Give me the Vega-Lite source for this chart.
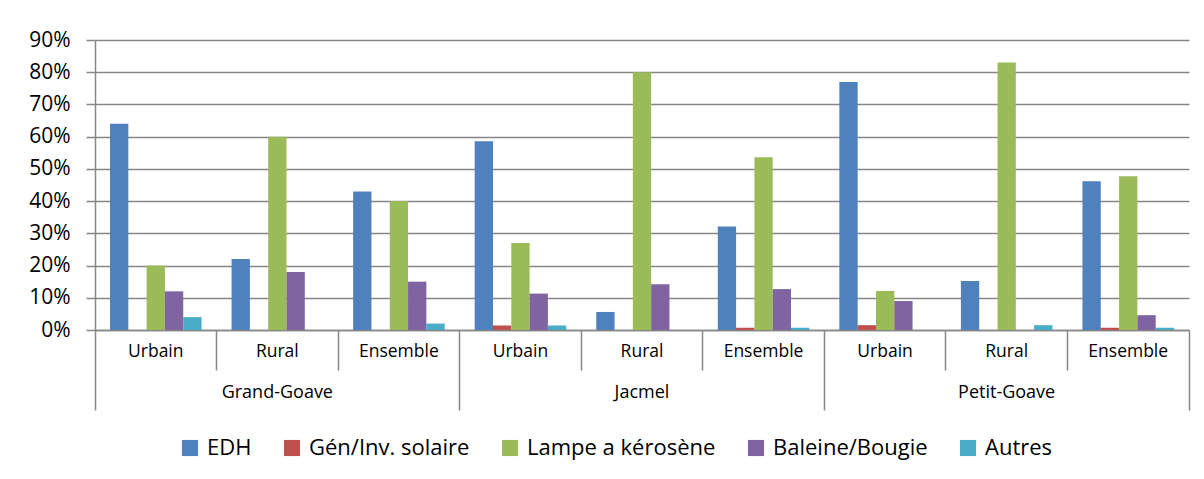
{
  "$schema": "https://vega.github.io/schema/vega-lite/v6.json",
  "autosize": "none",
  "width": 1094,
  "height": 290,
  "padding": {"left": 95, "top": 40, "right": 15, "bottom": 149},
  "background": "white",
  "config": {
    "view": {"stroke": null},
    "font": "Open Sans",
    "axis": {"labelFont": "Open Sans", "labelColor": "#000000"},
    "legend": {"labelFont": "Open Sans"}
  },
  "data": {
    "values": [
      {"c": "Grand-Goave|Urbain", "s": "EDH", "v": 64},
      {"c": "Grand-Goave|Urbain", "s": "Gén/Inv. solaire", "v": 0},
      {"c": "Grand-Goave|Urbain", "s": "Lampe a kérosène", "v": 20},
      {"c": "Grand-Goave|Urbain", "s": "Baleine/Bougie", "v": 12},
      {"c": "Grand-Goave|Urbain", "s": "Autres", "v": 4},
      {"c": "Grand-Goave|Rural", "s": "EDH", "v": 22},
      {"c": "Grand-Goave|Rural", "s": "Gén/Inv. solaire", "v": 0},
      {"c": "Grand-Goave|Rural", "s": "Lampe a kérosène", "v": 60},
      {"c": "Grand-Goave|Rural", "s": "Baleine/Bougie", "v": 18},
      {"c": "Grand-Goave|Rural", "s": "Autres", "v": 0},
      {"c": "Grand-Goave|Ensemble", "s": "EDH", "v": 43},
      {"c": "Grand-Goave|Ensemble", "s": "Gén/Inv. solaire", "v": 0},
      {"c": "Grand-Goave|Ensemble", "s": "Lampe a kérosène", "v": 40},
      {"c": "Grand-Goave|Ensemble", "s": "Baleine/Bougie", "v": 15},
      {"c": "Grand-Goave|Ensemble", "s": "Autres", "v": 2},
      {"c": "Jacmel|Urbain", "s": "EDH", "v": 58.6},
      {"c": "Jacmel|Urbain", "s": "Gén/Inv. solaire", "v": 1.4},
      {"c": "Jacmel|Urbain", "s": "Lampe a kérosène", "v": 27},
      {"c": "Jacmel|Urbain", "s": "Baleine/Bougie", "v": 11.3},
      {"c": "Jacmel|Urbain", "s": "Autres", "v": 1.4},
      {"c": "Jacmel|Rural", "s": "EDH", "v": 5.6},
      {"c": "Jacmel|Rural", "s": "Gén/Inv. solaire", "v": 0},
      {"c": "Jacmel|Rural", "s": "Lampe a kérosène", "v": 80},
      {"c": "Jacmel|Rural", "s": "Baleine/Bougie", "v": 14.2},
      {"c": "Jacmel|Rural", "s": "Autres", "v": 0},
      {"c": "Jacmel|Ensemble", "s": "EDH", "v": 32.1},
      {"c": "Jacmel|Ensemble", "s": "Gén/Inv. solaire", "v": 0.7},
      {"c": "Jacmel|Ensemble", "s": "Lampe a kérosène", "v": 53.6},
      {"c": "Jacmel|Ensemble", "s": "Baleine/Bougie", "v": 12.7},
      {"c": "Jacmel|Ensemble", "s": "Autres", "v": 0.7},
      {"c": "Petit-Goave|Urbain", "s": "EDH", "v": 77},
      {"c": "Petit-Goave|Urbain", "s": "Gén/Inv. solaire", "v": 1.5},
      {"c": "Petit-Goave|Urbain", "s": "Lampe a kérosène", "v": 12.1},
      {"c": "Petit-Goave|Urbain", "s": "Baleine/Bougie", "v": 9},
      {"c": "Petit-Goave|Urbain", "s": "Autres", "v": 0},
      {"c": "Petit-Goave|Rural", "s": "EDH", "v": 15.2},
      {"c": "Petit-Goave|Rural", "s": "Gén/Inv. solaire", "v": 0},
      {"c": "Petit-Goave|Rural", "s": "Lampe a kérosène", "v": 83},
      {"c": "Petit-Goave|Rural", "s": "Baleine/Bougie", "v": 0},
      {"c": "Petit-Goave|Rural", "s": "Autres", "v": 1.5},
      {"c": "Petit-Goave|Ensemble", "s": "EDH", "v": 46.2},
      {"c": "Petit-Goave|Ensemble", "s": "Gén/Inv. solaire", "v": 0.7},
      {"c": "Petit-Goave|Ensemble", "s": "Lampe a kérosène", "v": 47.7},
      {"c": "Petit-Goave|Ensemble", "s": "Baleine/Bougie", "v": 4.6},
      {"c": "Petit-Goave|Ensemble", "s": "Autres", "v": 0.7}
    ]
  },
  "resolve": {"axis": {"x": "independent"}},
  "layer": [
    {
      "mark": {"type": "bar"},
      "encoding": {
        "x": {
          "field": "c", "type": "nominal", "sort": null,
          "scale": {"paddingInner": 0, "paddingOuter": 0},
          "axis": {
            "orient": "bottom", "title": null, "labelAngle": 0,
            "labelExpr": "split(datum.value, '|')[1]",
            "labelFontSize": 17.5, "labelPadding": 12, "ticks": false,
            "domain": true, "domainColor": "#868686", "domainWidth": 1.5,
            "grid": false
          }
        },
        "xOffset": {
          "field": "s", "type": "nominal",
          "sort": ["EDH", "Gén/Inv. solaire", "Lampe a kérosène", "Baleine/Bougie", "Autres"],
          "scale": {"paddingInner": 0, "paddingOuter": 0.82}
        },
        "y": {
          "field": "v", "type": "quantitative",
          "scale": {"domain": [0, 90], "nice": false},
          "axis": {
            "title": null, "values": [0, 10, 20, 30, 40, 50, 60, 70, 80, 90],
            "labelExpr": "datum.value + '%'", "labelFontSize": 21,
            "labelPadding": 16, "tickSize": 9, "tickColor": "#868686", "tickWidth": 1.5,
            "domainColor": "#868686", "domainWidth": 1.5,
            "grid": true, "gridColor": "#868686", "gridWidth": 1.5
          }
        },
        "color": {
          "field": "s", "type": "nominal",
          "scale": {
            "domain": ["EDH", "Gén/Inv. solaire", "Lampe a kérosène", "Baleine/Bougie", "Autres"],
            "range": ["#4F81BD", "#C0504D", "#9BBB59", "#8064A2", "#4BACC6"]
          },
          "legend": {
            "title": null, "orient": "none", "direction": "horizontal",
            "legendX": 84, "legendY": 397,
            "symbolType": "square", "symbolSize": 260, "symbolStrokeWidth": 0,
            "labelFontSize": 22, "labelOffset": 6, "columnPadding": 29,
            "labelColor": "#000000", "labelLimit": 400
          }
        }
      }
    },
    {
      "mark": {"type": "point", "opacity": 0},
      "encoding": {
        "x": {
          "field": "c", "type": "nominal", "sort": null,
          "axis": {
            "orient": "bottom", "title": null, "labels": false, "domain": false,
            "bandPosition": 0, "ticks": true, "tickColor": "#868686", "tickWidth": 1.5,
            "tickSize": {"condition": {"test": "split(datum.value, '|')[1] === 'Urbain'", "value": 80}, "value": 40},
            "grid": false
          }
        }
      }
    },
    {
      "mark": {"type": "point", "opacity": 0},
      "encoding": {
        "x": {
          "field": "c", "type": "nominal", "sort": null,
          "axis": {
            "orient": "bottom", "title": null, "labels": false, "domain": false,
            "bandPosition": 1, "ticks": true, "tickColor": "#868686", "tickWidth": 1.5,
            "tickSize": 80,
            "tickOpacity": {"condition": {"test": "datum.value === 'Petit-Goave|Ensemble'", "value": 1}, "value": 0},
            "grid": false
          }
        }
      }
    },
    {
      "mark": {"type": "point", "opacity": 0},
      "encoding": {
        "x": {
          "field": "c", "type": "nominal", "sort": null,
          "axis": {
            "orient": "bottom", "title": null, "labelAngle": 0, "domain": false, "ticks": false,
            "labelExpr": "split(datum.value, '|')[1] === 'Rural' ? split(datum.value, '|')[0] : ''",
            "labelFontSize": 18, "labelPadding": 53, "grid": false
          }
        }
      }
    }
  ]
}
